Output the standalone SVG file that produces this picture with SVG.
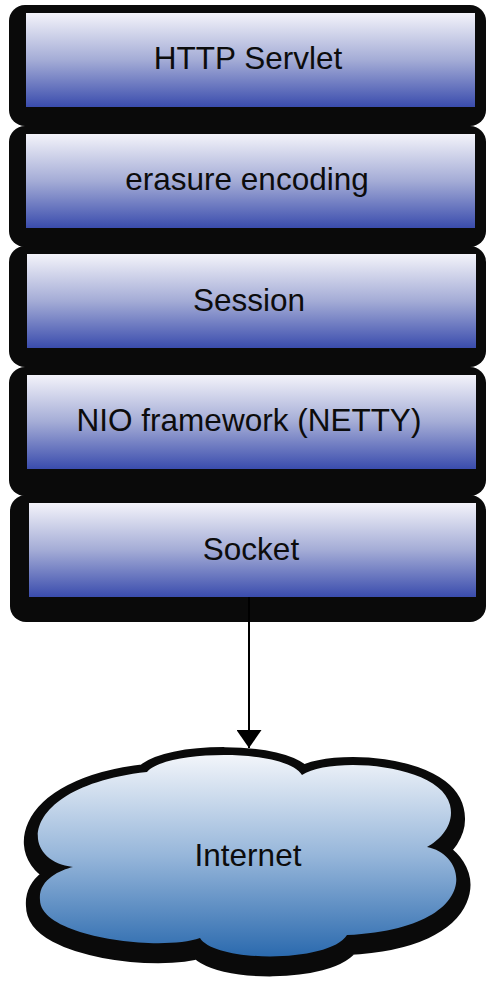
<svg xmlns="http://www.w3.org/2000/svg" width="487" height="983" viewBox="0 0 487 983">
  <defs>
    <linearGradient id="layerFill" x1="0" y1="0" x2="0" y2="1">
      <stop offset="0" stop-color="#f3f3fa"/>
      <stop offset="0.5" stop-color="#a4acd6"/>
      <stop offset="1" stop-color="#3a4cad"/>
    </linearGradient>
    <linearGradient id="cloudFill" x1="0" y1="0" x2="0" y2="1">
      <stop offset="0" stop-color="#f2f5fa"/>
      <stop offset="0.5" stop-color="#96b6da"/>
      <stop offset="1" stop-color="#2b6aae"/>
    </linearGradient>
    <path id="cloudShape" d="M147,772 C165,750 285,748 302,775 C330,756 440,763 450,805 C455,825 440,840 427,847 C470,855 482,928 347,935 C330,963 215,963 200,938 C160,952 40,937 40,900 C38,880 60,870 73,867 C16,860 20,786 147,772 Z"/>
    <marker id="arrowHead" viewBox="0 0 18 25" refX="18" refY="12.5" markerWidth="18" markerHeight="25" markerUnits="userSpaceOnUse" orient="auto">
      <path d="M0,0 L18,12.5 L0,25 Z" fill="#000"/>
    </marker>
  </defs>
  <style>
    .shadow { fill: #0a0a0a; }
    .layer { fill: url(#layerFill); }
    .label { font-family: "Liberation Sans", Arial, sans-serif; font-size: 31.5px; fill: #0c0c0c; text-anchor: middle; }
    .link { stroke: #000; stroke-width: 2; fill: none; }
  </style>

  <rect width="487" height="983" fill="#fff"/>

  <g id="http-servlet">
    <rect class="shadow" x="9" y="5" width="477" height="121" rx="16"/>
    <rect class="layer" x="26" y="13" width="449" height="94"/>
    <text class="label" x="248" y="69">HTTP Servlet</text>
  </g>

  <g id="erasure-encoding">
    <rect class="shadow" x="9" y="126" width="477" height="121" rx="16"/>
    <rect class="layer" x="26" y="134" width="449" height="94"/>
    <text class="label" x="247" y="190">erasure encoding</text>
  </g>

  <g id="session">
    <rect class="shadow" x="9" y="246" width="477" height="121" rx="16"/>
    <rect class="layer" x="27" y="254" width="449" height="94"/>
    <text class="label" x="249" y="311">Session</text>
  </g>

  <g id="nio-framework">
    <rect class="shadow" x="9" y="367" width="477" height="129" rx="16"/>
    <rect class="layer" x="27" y="375" width="449" height="94"/>
    <text class="label" x="249" y="431">NIO framework (NETTY)</text>
  </g>

  <g id="socket">
    <rect class="shadow" x="10" y="495" width="476" height="127" rx="16"/>
    <rect class="layer" x="29" y="503" width="447" height="94"/>
    <text class="label" x="251" y="560">Socket</text>
  </g>

  <g id="connectors">
    <line class="link" x1="249" y1="597" x2="249" y2="748" marker-end="url(#arrowHead)"/>
  </g>

  <g id="internet">
    <use href="#cloudShape" transform="translate(0,6)" fill="#0a0a0a" stroke="#0a0a0a" stroke-width="28" stroke-linejoin="round"/>
    <use href="#cloudShape" fill="url(#cloudFill)"/>
    <text class="label" x="248" y="866">Internet</text>
  </g>
</svg>
